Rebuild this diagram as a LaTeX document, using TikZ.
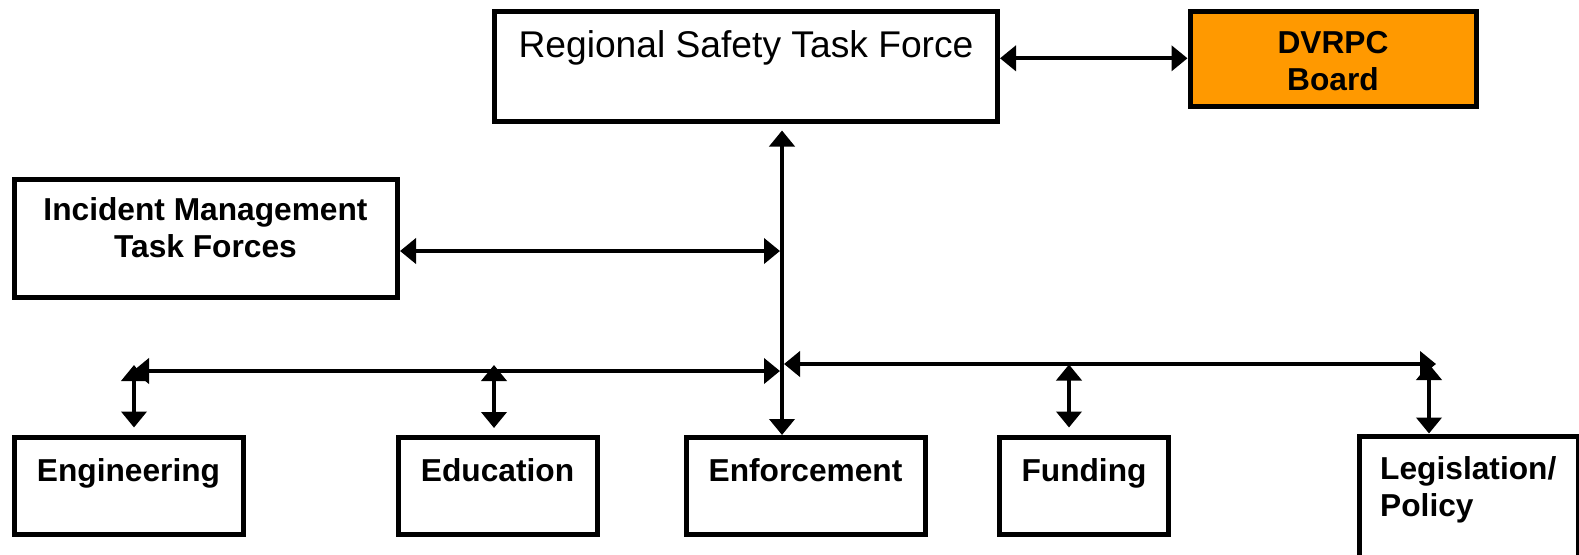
\documentclass[tikz,border=0pt]{standalone}
\usepackage{fontspec}
\setmainfont{Liberation Sans}
\usetikzlibrary{arrows.meta}
\definecolor{dvorange}{RGB}{255,153,0}
\begin{document}
\begin{tikzpicture}[x=1pt,y=-1pt,
  box/.style={draw=black, line width=5pt, rectangle, inner sep=0pt},
  lbl/.style={font=\fontsize{31.7}{37}\selectfont\bfseries, inner sep=0pt, anchor=base},
  con/.style={line width=4pt, {Triangle[length=16pt,width=25pt]}-{Triangle[length=16pt,width=25pt]}},
]
\useasboundingbox (0,0) rectangle (1579,554);

% boxes
\node[box, minimum width=502.8pt, minimum height=109.3pt] (rstf) at (746.1,66.35) {};
\node[box, fill=dvorange, minimum width=286pt, minimum height=95pt] (dvrpc) at (1333,58.5) {};
\node[box, minimum width=383pt, minimum height=117.3pt] (incident) at (206,238.35) {};
\node[box, minimum width=229pt, minimum height=97.5pt] (eng) at (128.5,485.75) {};
\node[box, minimum width=199pt, minimum height=97pt] (edu) at (497.5,486) {};
\node[box, minimum width=239pt, minimum height=97pt] (enf) at (805.5,486) {};
\node[box, minimum width=169pt, minimum height=97pt] (fund) at (1083.5,486) {};
\node[box, minimum width=219pt, minimum height=134pt] (legis) at (1468.5,503) {};

% junction coordinates
\coordinate (rd) at (0,58.3);
\coordinate (vtop) at (782,130.5);
\coordinate (ih) at (780,251);
\coordinate (lh) at (133,371);
\coordinate (lhr) at (780,371);
\coordinate (rhl) at (784,364);
\coordinate (rhr) at (1436,364);
\coordinate (engt) at (134,365);
\coordinate (edut) at (494,365);
\coordinate (fundt) at (1069,364.5);
\coordinate (legt) at (1429,364);

% connectors
\draw[con] (rstf.east |- rd) -- (dvrpc.west |- rd);
\draw[con] (vtop) -- (enf.north -| vtop);
\draw[con] (incident.east |- ih) -- (ih);
\draw[con] (lh) -- (lhr);
\draw[con] (rhl) -- (rhr);
\draw[con, shorten >=7pt] (engt) -- (eng.north -| engt);
\draw[con, shorten >=7pt] (edut) -- (edu.north -| edut);
\draw[con, shorten >=7.5pt] (fundt) -- (fund.north -| fundt);
\draw[con] (legt) -- (legis.north -| legt);

% texts (base anchor of multi-line nodes = last line)
\node[lbl, font=\fontsize{37.2}{40}\selectfont] (rstfT) at (746,57.5) {Regional Safety Task Force};
\node[lbl, align=center] (dvT) at (1333,90) {DVRPC\\Board};
\node[lbl, align=center] (incT) at (205.5,257) {Incident Management\\Task Forces};
\node[lbl] (engT) at (128.5,481) {Engineering};
\node[lbl] (eduT) at (497.5,481) {Education};
\node[lbl] (enfT) at (805.5,481) {Enforcement};
\node[lbl] (fundT) at (1084,481) {Funding};
\node[lbl, align=left, anchor=base west] (legT) at (1380,516) {Legislation/\\Policy};
\end{tikzpicture}
\end{document}
